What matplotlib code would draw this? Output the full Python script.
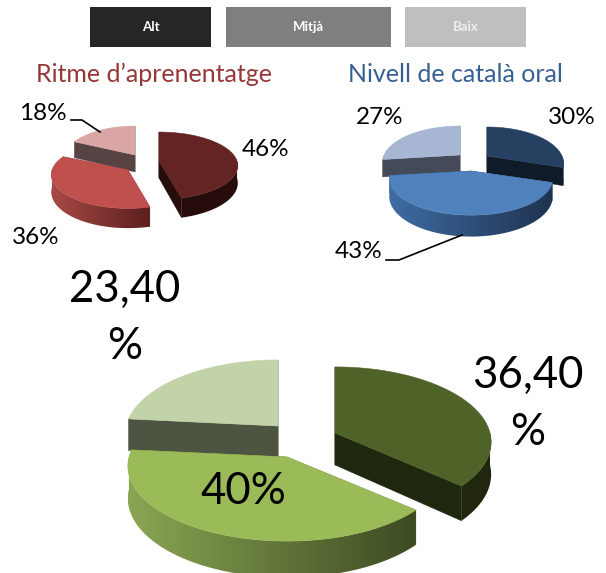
import numpy as np
import matplotlib
matplotlib.use('Agg')
import matplotlib.pyplot as plt
from matplotlib.colors import to_rgb
from matplotlib.patches import Rectangle, Polygon

plt.rcParams['font.family'] = ['Lato', 'DejaVu Sans']

# legend
legend_labels = ['Alt', 'Mitjà', 'Baix']

# values
ritme_values = [46, 36, 18]
ritme_labels = ['46%', '36%', '18%']
catala_values = [30, 43, 27]
catala_labels = ['30%', '43%', '27%']
third_values = [36.4, 40, 23.4]
third_labels = ['36,40\n%', '40%', '23,40\n%']


def project(theta, apex, rx, ry, k):
    # clockwise from 12 o'clock, with a bit of perspective on the front side
    u, v = np.sin(theta), np.cos(theta)
    p = 1 / (1 + k * v)
    return apex[0] + rx * u * p, apex[1] - ry * v * p, p


def draw_slice(ax, t0, t1, apex, rx, ry, k, depth, top, wall, rim_from, rim_to):
    th = np.linspace(t0, t1, 300)
    x, y, p = project(th, apex, rx, ry, k)

    # the two cut faces
    for j in [0, -1]:
        ax.fill([apex[0], x[j], x[j], apex[0]],
                [apex[1], y[j], y[j] + depth * p[j], apex[1] + depth],
                color=wall, lw=0.3, zorder=ax.z)
    ax.z += 1

    # rim, only the part facing us, gradient image clipped to the rim shape
    front = (th >= np.pi / 2) & (th <= 3 * np.pi / 2)
    if front.sum() > 1:
        fx, fy, fb = x[front], y[front], (y + depth * p)[front]
        c0, c1 = np.array(to_rgb(rim_from)), np.array(to_rgb(rim_to))
        f = np.linspace(0, 1, 256)[None, :, None]
        grad = c0 + (c1 - c0) * f
        im = ax.imshow(grad, extent=(x.min(), x.max(), fb.max() + 1, fy.min() - 1),
                       aspect='auto', zorder=ax.z, interpolation='bilinear')
        clip = Polygon(np.c_[np.r_[fx, fx[::-1]], np.r_[fy, fb[::-1]]], closed=True,
                       transform=ax.transData)
        im.set_clip_path(clip)
    ax.z += 1

    ax.fill(np.r_[apex[0], x], np.r_[apex[1], y], color=top, lw=0.4, zorder=ax.z)
    ax.z += 1


def draw_pie(ax, values, apexes, order, rxs, ry, k, depth, tops, walls, rims):
    frac = np.array(values, dtype=float) / np.sum(values)
    edges = np.r_[0, np.cumsum(frac)] * 2 * np.pi
    for i in order:
        draw_slice(ax, edges[i], edges[i + 1], apexes[i], rxs[i], ry, k, depth,
                   tops[i], walls[i], rims[i][0], rims[i][1])


fig = plt.figure(figsize=(6.06, 5.73), dpi=100)
ax = fig.add_axes([0, 0, 1, 1])
ax.axis('off')
ax.z = 2

# legend boxes
boxes = [(90, 121, '#262626', 'white'), (226, 165, '#7f7f7f', 'white'), (405, 121, '#bfbfbf', '#eeeeee')]
for (x0, w, col, tc), lab in zip(boxes, legend_labels):
    ax.add_patch(Rectangle((x0, 7), w, 40, color=col, lw=0))
    ax.text(x0 + w / 2, 27, lab, color=tc, fontsize=9.5, fontweight='bold', ha='center', va='center')

ax.text(153.5, 74, 'Ritme d’aprenentatge', color='#953735', fontsize=18, ha='center', va='center')
ax.text(455.5, 74, 'Nivell de català oral', color='#376092', fontsize=18, ha='center', va='center')

# red pie
draw_pie(ax, ritme_values, [(159, 161), (128, 170), (135, 155)], [2, 0, 1],
         [78, 76, 71], 33, 0.14, 17,
         ['#632423', '#c0504d', '#d9a5a5'],
         ['#260d0b', '#7a2f2d', '#574343'],
         [('#260d0b', '#260d0b'), ('#a84a46', '#5c1f1d'), ('#574343', '#574343')])

# blue pie
draw_pie(ax, catala_values, [(487, 156), (471, 171), (460, 155)], [2, 0, 1],
         [75, 80, 76], 35, 0.207, 17,
         ['#254061', '#4f81bd', '#a6b6d3'],
         ['#0f1b26', '#2c4a70', '#444a58'],
         [('#0f1b26', '#0f1b26'), ('#3f6ca3', '#1f3350'), ('#444a58', '#444a58')])

# green pie
draw_pie(ax, third_values, [(335, 433), (287, 457), (278, 426)], [2, 0, 1],
         [155, 158, 152], 74, 0.12, 32,
         ['#4f6228', '#9bbb59', '#c3d3a9'],
         ['#20270f', '#5a6e30', '#4e5442'],
         [('#20270f', '#20270f'), ('#8aa653', '#3d4a22'), ('#4e5442', '#4e5442')])

small = 17.5
ax.text(266, 150, ritme_labels[0], fontsize=small, ha='center', va='center', color='black', zorder=50)
ax.text(36, 238, ritme_labels[1], fontsize=small, ha='center', va='center', color='black', zorder=50)
ax.text(43, 113, ritme_labels[2], fontsize=small, ha='center', va='center', color='black', zorder=50)
ax.plot([71, 82, 100], [120, 120, 132], color='black', lw=1.2, zorder=50)

ax.text(572, 118, catala_labels[0], fontsize=small, ha='center', va='center', color='black', zorder=50)
ax.text(359, 252, catala_labels[1], fontsize=small, ha='center', va='center', color='black', zorder=50)
ax.text(380, 118, catala_labels[2], fontsize=small, ha='center', va='center', color='black', zorder=50)
ax.plot([386, 399, 462], [260, 260, 235], color='black', lw=1.2, zorder=50)

big = 31.5
ax.text(528, 404, third_labels[0], fontsize=big, ha='center', va='center', color='black', linespacing=1.5, zorder=50)
ax.text(243, 492, third_labels[1], fontsize=big, ha='center', va='center', color='black', zorder=50)
ax.text(125, 318, third_labels[2], fontsize=big, ha='center', va='center', color='black', linespacing=1.5, zorder=50)

ax.set_xlim(0, 606)
ax.set_ylim(573, 0)
fig.savefig('out.png', dpi=100)
